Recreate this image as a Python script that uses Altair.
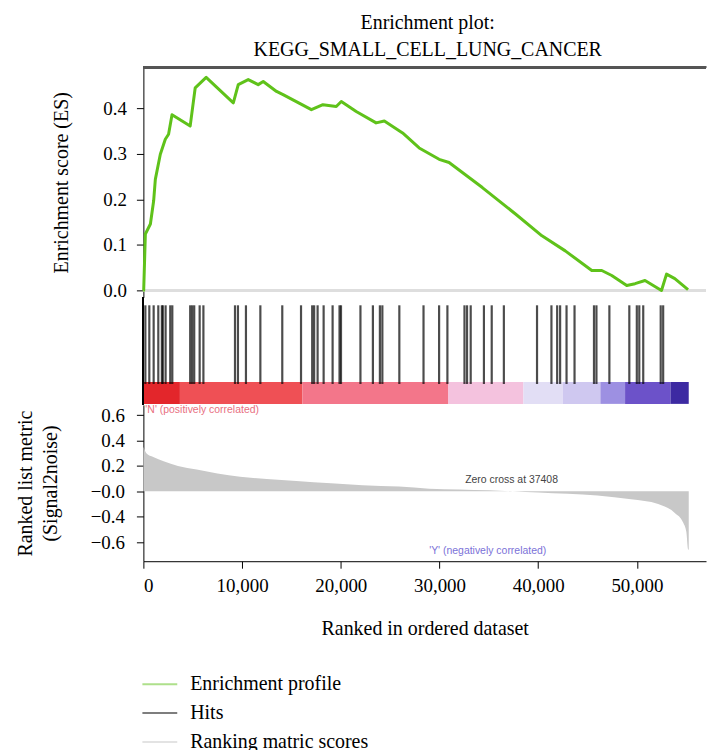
import altair as alt
import pandas as pd

FONT = "Liberation Serif"
W = 565

# ---- data ----
es_rank = [0, 30, 200, 710, 1040, 1210, 1715, 2220, 2550, 2900, 4740, 5250, 6360, 9110, 9610,
           10620, 11630, 12140, 13490, 14150, 17020, 18190, 19540, 20050, 21560, 23580, 24410,
           26260, 27940, 29960, 30970, 34340, 37700, 40380, 42740, 45430, 46440, 47450, 48970,
           49810, 50820, 52490, 53000, 53840, 55180]
es_value = [0.0, 0.0, 0.124, 0.146, 0.197, 0.244, 0.299, 0.332, 0.343, 0.386, 0.361, 0.445, 0.468,
            0.412, 0.452, 0.463, 0.452, 0.459, 0.437, 0.430, 0.397, 0.408, 0.404, 0.415, 0.393,
            0.368, 0.372, 0.346, 0.313, 0.288, 0.281, 0.226, 0.168, 0.120, 0.087, 0.044, 0.044,
            0.033, 0.011, 0.015, 0.022, 0.0, 0.036, 0.026, 0.002]

hit_ranks = [200, 600, 1040, 1510, 1870, 1970, 2250, 2720, 2930, 4740, 4940, 5150, 5700, 6080,
             9280, 9580, 10390, 11850, 14070, 15970, 17100, 17300, 17650, 18260, 19170, 19870,
             20020, 21990, 23250, 23960, 24210, 25930, 28380, 29960, 30800, 32530, 32790, 33160,
             34500, 35290, 36520, 39880, 41340, 41920, 42220, 42870, 43680, 45650, 45900, 47210,
             49230, 49990, 50240, 50640, 52410, 52660]

metric_rank = [0, 300, 1000, 2050, 3500, 5400, 7500, 9800, 12500, 15500, 19000, 22200, 25900,
               28950, 32000, 35000, 37408, 40000, 43000, 46000, 49400, 52150, 53840, 54680,
               55010, 55180, 55250]
metric_value = [0.35, 0.30, 0.27, 0.237, 0.20, 0.172, 0.14, 0.115, 0.097, 0.081, 0.063, 0.047,
                0.037, 0.021, 0.015, 0.008, 0.0, -0.01, -0.02, -0.032, -0.063, -0.10, -0.17,
                -0.245, -0.32, -0.455, -0.46]

seg_start = [0, 3700, 16100, 30900, 38500, 42500, 46300, 48800, 53400]
seg_end = [3700, 16100, 30900, 38500, 42500, 46300, 48800, 53400, 55250]
seg_level = [1, 2, 3, 4, 5, 6, 7, 8, 9]

ann_label = ["'N' (positively correlated)", "Zero cross at 37408", "'Y' (negatively correlated)"]
ann_rank = [200, 37300, 28950]
ann_value = [0.64, 0.086, -0.47]

legend_names = ["Enrichment profile", "Hits", "Ranking matric scores"]
x_ticks = [0, 10000, 20000, 30000, 40000, 50000]
metric_ticks = [0.6, 0.4, 0.2, 0, -0.2, -0.4]

# ---- scales ----
x_scale = alt.Scale(domain=[0, 57000], nice=False, zero=False)
metric_scale = alt.Scale(domain=[-0.55, 0.68], nice=False, zero=False)
color_scale = alt.Scale(domain=legend_names, range=["#5fc21a", "#000000", "#c8c8c8"])
bar_scale = alt.Scale(domain=seg_level,
                      range=["#e3262b", "#ef5055", "#f3768a", "#f4c2de", "#e2def5", "#cfc8f0",
                             "#9d90e2", "#6c52c9", "#3d2aa2"])
legend = alt.Legend(title=None, orient="none", legendX=-2, legendY=601, symbolType="stroke",
                    symbolSize=1225, symbolStrokeWidth=2, symbolOpacity=0.5,
                    labelFont=FONT, labelFontSize=20, labelColor="black", rowPadding=-7,
                    labelOffset=12, labelLimit=400)

# ---- ES panel ----
es_df = pd.DataFrame({"rank": es_rank, "es": es_value, "series": "Enrichment profile"})
es_line = alt.Chart(es_df).mark_line(strokeWidth=3, strokeJoin="round").encode(
    x=alt.X("rank:Q", scale=x_scale, axis=None),
    y=alt.Y("es:Q", scale=alt.Scale(domain=[-0.015, 0.49], nice=False, zero=False),
            axis=alt.Axis(values=[0, 0.1, 0.2, 0.3, 0.4], format=".1f",
                          title="Enrichment score (ES)", titlePadding=31, tickSize=7,
                          labelPadding=10)),
    color=alt.Color("series:N", scale=color_scale, legend=legend),
)
zero_line = alt.Chart(es_df).mark_rule(color="#dedede", strokeWidth=2).encode(y=alt.datum(0))
top_border = alt.Chart(es_df).mark_rule(color="#555555", strokeWidth=2.5).encode(
    x=alt.value(0), x2=alt.value(W), y=alt.value(0))
es_panel = alt.layer(zero_line, es_line, top_border).properties(width=W, height=231)

# ---- hits panel ----
hits_df = pd.DataFrame({"rank": hit_ranks, "series": "Hits"})
bar_df = pd.DataFrame({"start": seg_start, "end": seg_end, "level": seg_level})
colorbar = alt.Chart(bar_df).mark_rect().encode(
    x=alt.X("start:Q", scale=x_scale, axis=None),
    x2="end:Q",
    y=alt.value(85), y2=alt.value(107),
    fill=alt.Fill("level:O", scale=bar_scale, legend=None),
)
hits = alt.Chart(hits_df).mark_rule(strokeWidth=2.2, opacity=0.7).encode(
    x=alt.X("rank:Q", scale=x_scale, axis=None),
    y=alt.value(8), y2=alt.value(87),
    color=alt.Color("series:N", scale=color_scale, legend=legend),
)
left_line = alt.Chart(hits_df).mark_rule(color="black", strokeWidth=1).encode(
    x=alt.value(0), y=alt.value(0), y2=alt.value(108))
hits_panel = alt.layer(colorbar, hits, left_line).properties(width=W, height=108)

# ---- ranked metric panel ----
rk_df = pd.DataFrame({"rank": metric_rank, "metric": metric_value})
label_expr = ("datum.value < -0.3 ? '\u22120.6' : datum.value < -0.1 ? '\u22120.4' : "
              "datum.value < 0.1 ? '\u22120.0' : format(datum.value, '.1f')")
x_axis = alt.Axis(values=x_ticks, labelExpr="format(datum.value, ',')",
                  title="Ranked in ordered dataset", tickSize=7, labelPadding=8,
                  titlePadding=24, labelOverlap=False)
y_axis = alt.Axis(values=metric_ticks, labelExpr=label_expr, labelOverlap=False,
                  title=["Ranked list metric", "(Signal2noise)"], titlePadding=30,
                  titleLineHeight=25, tickSize=7, labelPadding=12)
area = alt.Chart(rk_df).mark_area(color="#c8c8c8", interpolate="monotone").encode(
    x=alt.X("rank:Q", scale=x_scale, axis=x_axis),
    y=alt.Y("metric:Q", scale=metric_scale, axis=y_axis),
    y2=alt.datum(0),
)
ann_df = pd.DataFrame({"label": ann_label, "rank": ann_rank, "value": ann_value})
ann_colors = ["#e8707f", "#444444", "#7b72d8"]
ann_align = ["left", "center", "left"]
ann_layers = []
for i in range(3):
    ann_layers.append(
        alt.Chart(ann_df.iloc[[i]]).mark_text(font="Liberation Sans", fontSize=10.5,
                                              color=ann_colors[i], align=ann_align[i],
                                              baseline="middle").encode(
            x=alt.X("rank:Q", scale=x_scale, axis=x_axis),
            y=alt.Y("value:Q", scale=metric_scale, axis=y_axis),
            text="label:N"))
rank_panel = alt.layer(area, *ann_layers).properties(width=W, height=157)

chart = alt.vconcat(es_panel, hits_panel, rank_panel, spacing=0, bounds="flush").properties(
    title=alt.TitleParams(["Enrichment plot:", "KEGG_SMALL_CELL_LUNG_CANCER"], font=FONT,
                          fontSize=20, fontWeight="normal", anchor="middle", lineHeight=27,
                          offset=6, color="black", frame="group", dx=3),
    padding={"left": 15, "top": 11, "right": 0, "bottom": 0},
).resolve_scale(color="shared").configure_view(strokeWidth=0).configure_axis(
    labelFont=FONT, titleFont=FONT, labelFontSize=19, titleFontSize=20,
    titleFontWeight="normal", labelColor="black", titleColor="black",
    domainColor="black", tickColor="black", grid=False, labelOverlap=False)

chart.save("out.html", embed_options={"renderer": "svg", "actions": False})
